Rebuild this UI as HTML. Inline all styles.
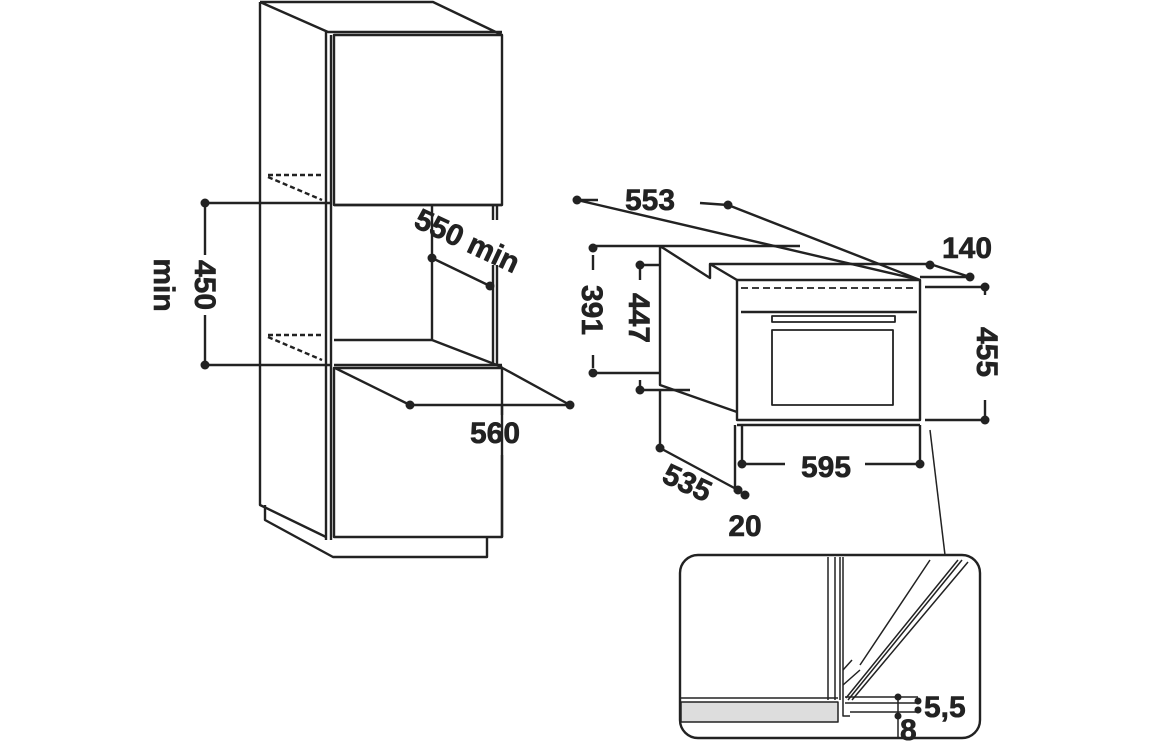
<!DOCTYPE html>
<html><head><style>body{margin:0;background:#fff}svg{display:block}text{font-family:"Liberation Sans",sans-serif;font-weight:bold;fill:#222}</style></head>
<body>
<svg width="1156" height="742" viewBox="0 0 1156 742" xmlns="http://www.w3.org/2000/svg">
<g stroke="#222" stroke-width="2.4" fill="none" stroke-linejoin="round">
<path d="M260 2 L433 2 L502 35 M260 2 L328 32 L502 32 M260 2 L260 505 L326 537"/>
<path d="M326 32 V540 M331 35 V540"/>
<rect x="334" y="35" width="168" height="170"/>
<rect x="334" y="368" width="168" height="169"/>
<path d="M265 505 V520 L333 557 H487 V537"/>
<path d="M205 203 H331 M205 365 H331 M205 203 V255 M205 315 V365"/>
<path d="M334 205 H502 M334 365 H502"/>
<path d="M432 205 V340 M334 340 H432 L502 367"/>
<path d="M493 205 V220 M497 205 V220 M493 265 V365 M497 265 V365"/>
<path d="M432 258 L490 286"/>
<path d="M335 368 L410 405 H570 L497 365"/>
<path d="M502 405 V415 M502 455 V537"/>
<path d="M268 175 H322 M268 177 L322 200 M268 335 H322 M268 337 L322 360" stroke-dasharray="5,3"/>
<path d="M577 200 H598 M700 203 L728 205 M577 200 L920 280 M728 205 L920 280"/>
<path d="M593 246 H800 M593 373 H660 M593 255 V270 M593 355 V368 M640 265 V280 M640 380 V392"/>
<path d="M660 246 V385 L737 412 M660 246 L710 278 V264 L737 280 M710 264 H930 L970 277 M920 277 H970"/>
<path d="M640 265 H660 M640 390 H690"/>
<rect x="737" y="280" width="183" height="140"/>
<path d="M741 288 H917" stroke-dasharray="7,4" stroke-width="1.8"/>
<path d="M741 312 H917"/>
<rect x="772" y="316" width="123" height="6" stroke-width="1.8"/>
<rect x="772" y="330" width="121" height="75" stroke-width="1.8"/>
<path d="M737 425 H920 M925 287 H985 M925 420 H985 M985 287 V295 M985 400 V420"/>
<path d="M742 425 V464 H785 M865 464 H920 V425 M735 425 V492 M660 390 V448 L738 490"/>
<path d="M930 430 L945 555" stroke-width="1.5"/>
<rect x="680" y="555" width="300" height="183" rx="18"/>
<path d="M828 557 V700 M835 557 V700 M840 557 V700 M843 557 V700 M843 700 V716 H850" stroke-width="1.5"/>
<rect x="681" y="702" width="157" height="20" fill="#ddd" stroke-width="1.5"/>
<path d="M681 698 H838 M848 700 L962 560 M852 700 L968 562 M846 698 L958 560 M860 665 L930 560 M843 670 L852 660 M843 685 L860 670" stroke-width="1.5"/>
<path d="M845 697 H918 M845 703 H918 M850 712 H918 M898 697 V738" stroke-width="1.5"/>
</g>
<g fill="#222">
<circle cx="205" cy="203" r="4.5"/><circle cx="205" cy="365" r="4.5"/>
<circle cx="432" cy="258" r="4.5"/><circle cx="490" cy="286" r="4.5"/>
<circle cx="410" cy="405" r="4.5"/><circle cx="570" cy="405" r="4.5"/>
<circle cx="577" cy="200" r="4.5"/><circle cx="728" cy="205" r="4.5"/>
<circle cx="593" cy="248" r="4.5"/><circle cx="593" cy="373" r="4.5"/>
<circle cx="640" cy="265" r="4.5"/><circle cx="640" cy="390" r="4.5"/>
<circle cx="930" cy="265" r="4.5"/><circle cx="970" cy="277" r="4.5"/>
<circle cx="985" cy="287" r="4.5"/><circle cx="985" cy="420" r="4.5"/>
<circle cx="742" cy="464" r="4.5"/><circle cx="920" cy="464" r="4.5"/>
<circle cx="660" cy="448" r="4.5"/><circle cx="738" cy="490" r="4.5"/><circle cx="745" cy="495" r="4.5"/>
<circle cx="898" cy="697" r="3.5"/><circle cx="898" cy="716" r="3.5"/><circle cx="918" cy="701" r="3.5"/><circle cx="918" cy="710" r="3.5"/>
</g>
<g font-size="30" stroke="#222" stroke-width="0.6">
<text transform="translate(195 285) rotate(90)" text-anchor="middle">450</text>
<text transform="translate(154 285) rotate(90)" text-anchor="middle">min</text>
<text transform="translate(463 250) rotate(25)" text-anchor="middle">550 min</text>
<text x="495" y="443" text-anchor="middle">560</text>
<text x="650" y="210" text-anchor="middle">553</text>
<text x="967" y="258" text-anchor="middle">140</text>
<text transform="translate(582 310) rotate(90)" text-anchor="middle">391</text>
<text transform="translate(629 318) rotate(90)" text-anchor="middle">447</text>
<text transform="translate(977 352) rotate(90)" text-anchor="middle">455</text>
<text x="826" y="477" text-anchor="middle">595</text>
<text transform="translate(683 492) rotate(25)" text-anchor="middle">535</text>
<text x="745" y="536" text-anchor="middle">20</text>
<text x="924" y="717">5,5</text>
<text x="900" y="740">8</text>
</g>
</svg>
</body></html>
